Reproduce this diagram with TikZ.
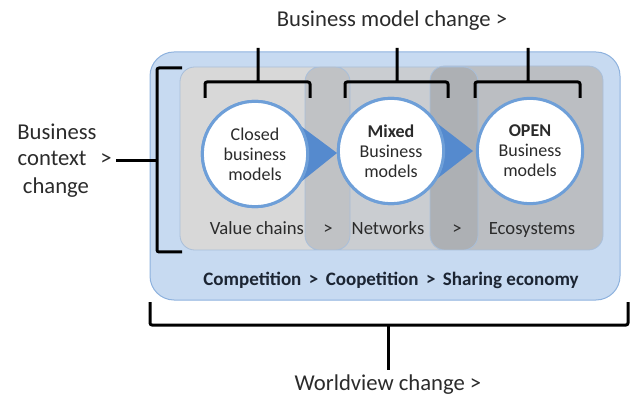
\documentclass[tikz,border=0pt]{standalone}
\usepackage{fontspec}
\setmainfont{Carlito}
\definecolor{worldbg}{HTML}{C7DAF1}
\definecolor{worldedge}{HTML}{8EB2DE}
\definecolor{boxedge}{HTML}{A9BFDA}
\definecolor{chainfill}{HTML}{D8D8D8}
\definecolor{netfill}{HTML}{CACDD1}
\definecolor{ecofill}{HTML}{BBBEC2}
\definecolor{overlapa}{HTML}{C0C2C5}
\definecolor{overlapb}{HTML}{ADB0B4}
\definecolor{modeledge}{HTML}{6E9FD8}
\definecolor{arrowfill}{HTML}{558ACE}
\definecolor{txt}{HTML}{2B2B2B}
\definecolor{navytxt}{HTML}{1C2533}
\tikzset{
  brace/.style={line width=2.25pt,black,rounded corners=1.5pt,line cap=butt},
  model/.style={circle,draw=modeledge,line width=2.25pt,fill=white,minimum size=79pt,
    inner sep=0pt,align=center,text=txt,font=\fontsize{13.5}{15}\selectfont},
  boxlabel/.style={anchor=base,text=txt,font=\fontsize{14}{16}\selectfont},
  outlabel/.style={text=txt,font=\fontsize{17}{20}\selectfont}
}
\begin{document}
\begin{tikzpicture}[x=0.75pt,y=-0.75pt,line join=round]
\useasboundingbox (0,0) rectangle (630,398);
% worldview box
\draw[draw=worldedge,fill=worldbg,rounded corners=18pt,line width=0.75pt] (150,52) rectangle (620,300);
% value chains, networks, ecosystems
\fill[chainfill,rounded corners=11pt] (180,67) rectangle (350,250);
\fill[netfill,rounded corners=11pt] (305,67) rectangle (478,250);
\fill[ecofill,rounded corners=11pt] (430,66) rectangle (603,250);
\begin{scope}
  \clip[rounded corners=11pt] (180,67) rectangle (350,250);
  \fill[overlapa,rounded corners=11pt] (305,67) rectangle (478,250);
\end{scope}
\begin{scope}
  \clip[rounded corners=11pt] (305,67) rectangle (478,250);
  \fill[overlapb,rounded corners=11pt] (430,66) rectangle (603,250);
\end{scope}
\draw[boxedge,line width=0.6pt,rounded corners=11pt]
  (180,67) rectangle (350,250)
  (305,67) rectangle (478,250)
  (430,66) rectangle (603,250);
% business models
\coordinate (t1) at (337,153);
\coordinate (t2) at (473,151);
\node[model] (c1) at (255,154) {Closed\\business\\models};
\node[model] (c2) at (391,151) {\textbf{Mixed}\\Business\\models};
\node[model] (c3) at (530,151) {\textbf{OPEN}\\Business\\models};
\fill[arrowfill] (c1.30)--(t1)--(c1.-30)--cycle;
\fill[arrowfill] (c2.30)--(t2)--(c2.-30)--cycle;
\node[model] at (c1) {Closed\\business\\models};
\node[model] at (c2) {\textbf{Mixed}\\Business\\models};
% labels
\node[boxlabel] (vc) at (257,235) {Value chains};
\node[boxlabel] at (328,235) {>};
\node[boxlabel] (nw) at (388,235) {Networks};
\node[boxlabel] at (457,235) {>};
\node[boxlabel] (es) at (532,235) {Ecosystems};
\node[text=navytxt,font=\fontsize{14.25}{16}\selectfont\bfseries] (comp) at (391,280)
  {Competition \,>\, Coopetition \,>\, Sharing economy};
% business model change
\node[outlabel] (bmc) at (392,21) {Business model change >};
\foreach \a/\b/\m in {205/310/258, 345/448/397, 475/580/528}
  \draw[brace] (\a,98)--(\a,82)--(\b,82)--(\b,98) (\m,82)--(\m,48);
% business context change
\node[outlabel] (ctxa) at (57,132) {Business};
\node[outlabel,anchor=base west] (ctxb) at (13,166) {context};
\node[outlabel,anchor=base] (ctxgt) at (106,166) {>};
\node[outlabel] (ctxc) at (56,188) {change};
\coordinate (lb) at (157,161);
\draw[brace] (182,68)--(157,68)--(157,252)--(182,252);
\draw[brace] (ctxgt.east |- lb)--(lb);
% worldview change
\node[outlabel] (wv) at (388,385) {Worldview change >};
\coordinate (wb) at (388,325);
\draw[brace] (150,302)--(150,325)--(628,325)--(628,302);
\draw[brace] (wb)--(wv.north);
\end{tikzpicture}
\end{document}
